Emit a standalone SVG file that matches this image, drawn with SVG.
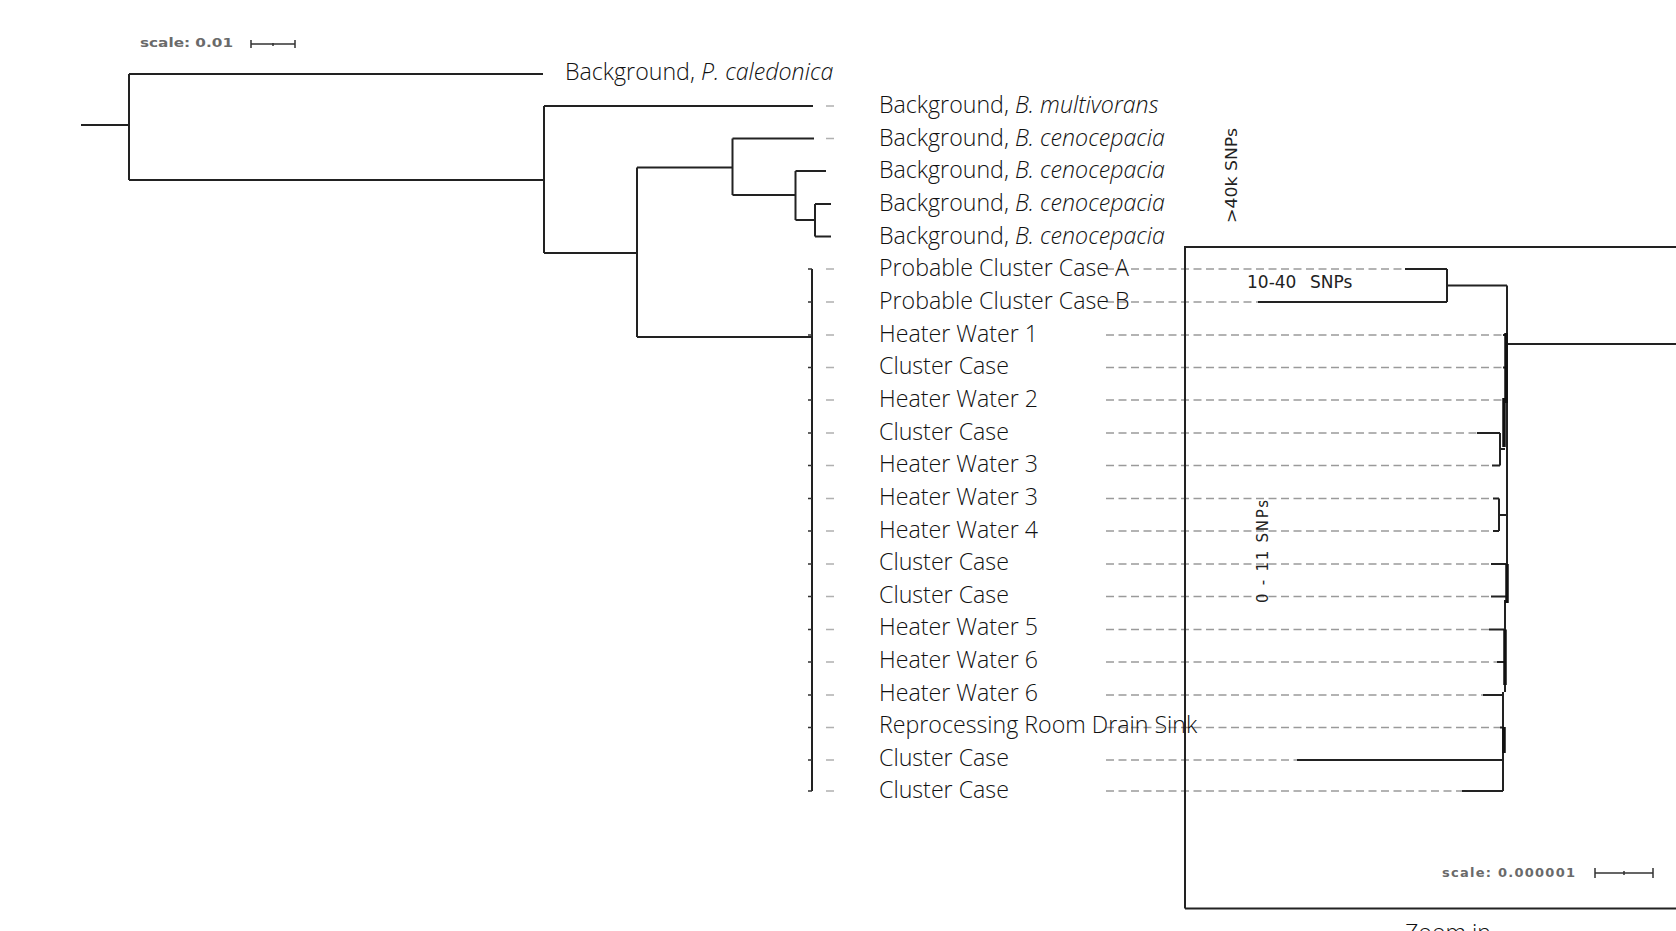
<svg xmlns="http://www.w3.org/2000/svg" width="1676" height="931" viewBox="0 0 1676 931">
<style>
.t{font-family:"Open Sans","Liberation Sans",sans-serif;font-size:23.2px;font-weight:300;fill:#111}
.i{font-style:italic}
.br{stroke:#222;stroke-width:2;fill:none}
.thk{stroke:#111;stroke-width:3.5;fill:none}
.tk{stroke:#333;stroke-width:1.5;fill:none}
.gd{stroke:#b0b0b0;stroke-width:1.5;fill:none}
.dl{stroke:#9a9a9a;stroke-width:1.5;stroke-dasharray:8 4.5;fill:none}
.s{font-family:"DejaVu Sans","Liberation Sans",sans-serif;fill:#222}
.sc{font-family:"DejaVu Sans","Liberation Sans",sans-serif;font-weight:bold;fill:#6a6a6a;font-size:13px}
</style>
<rect width="1676" height="931" fill="#fff"/>

<g id="scale-top">
<text class="sc" x="140" y="47" textLength="93" lengthAdjust="spacingAndGlyphs">scale: 0.01</text>
<path class="tk" d="M251 44H295M251 40V48M295 40V48M273 43V46" stroke="#666"/>
</g>

<g id="connectors">
<path class="br" d="M81 125H129M129 74V180M129 74H543M129 180H544M544 106V253M544 106H813M544 253H637M637 167.5V337M637 167.5H732.5M732.5 138.5V195M732.5 138.5H814M732.5 195H795.5M795.5 171V220M795.5 171H826M795.5 220H815M815 204V236.5M815 204H831M815 236.5H831M637 337H812M812 269V791"/>
<path class="tk" d="M808 269H812M808 302H812M808 335H812M808 367.5H812M808 400H812M808 433H812M808 465.5H812M808 498.5H812M808 531H812M808 564H812M808 596.5H812M808 629.5H812M808 662H812M808 695H812M808 727.5H812M808 760H812M808 791H812"/>
<path class="gd" d="M826 106H834M826 138.5H834M826 269H834M826 302H834M826 335H834M826 367.5H834M826 400H834M826 433H834M826 465.5H834M826 498.5H834M826 531H834M826 564H834M826 596.5H834M826 629.5H834M826 662H834M826 695H834M826 727.5H834M826 760H834M826 791H834"/>
<path class="dl" d="M1106 269H1405M1106 302H1258M1106 335H1503M1106 367.5H1503M1106 400H1503M1106 433H1477M1106 465.5H1492M1106 498.5H1493M1106 531H1493M1106 564H1491M1106 596.5H1491M1106 629.5H1489M1106 662H1497M1106 695H1483M1106 727.5H1500M1106 760H1297M1106 791H1462"/>
<path class="br" d="M1185 908.5V247H1680M1185 908.5H1680"/>
<path class="br" d="M1405 269H1447M1258 302H1447M1447 269V302M1447 285.5H1507M1507 285.5V600M1505 600V692M1503 692V791M1507 344H1680"/>
<path class="br" d="M1503 335H1507M1503 367.5H1507M1503 400H1507M1477 433H1500M1492 465.5H1500M1500 433V465.5M1500 449H1505M1493 498.5H1499M1493 531H1499M1499 498.5V531M1499 515H1507M1491 564H1507M1491 596.5H1507M1489 629.5H1505M1497 662H1505M1483 695H1504M1500 727.5H1504M1297 760H1503M1462 791H1503M1503 760V791"/>
<path class="thk" d="M1506 333V403M1504 398V447M1507 564V603M1505 629.5V685M1504 727V753"/>
</g>

<g id="leaf-p-caledonica"><text class="t" x="565" y="80">Background, <tspan class="i">P. caledonica</tspan></text></g>
<g id="leaf-b-multivorans"><text class="t" x="879" y="113">Background, <tspan class="i">B. multivorans</tspan></text></g>
<g id="leaf-b-cenocepacia-1"><text class="t" x="879" y="145.5">Background, <tspan class="i">B. cenocepacia</tspan></text></g>
<g id="leaf-b-cenocepacia-2"><text class="t" x="879" y="178">Background, <tspan class="i">B. cenocepacia</tspan></text></g>
<g id="leaf-b-cenocepacia-3"><text class="t" x="879" y="210.5">Background, <tspan class="i">B. cenocepacia</tspan></text></g>
<g id="leaf-b-cenocepacia-4"><text class="t" x="879" y="243.5">Background, <tspan class="i">B. cenocepacia</tspan></text></g>
<g id="leaf-probable-a"><text class="t" x="879" y="276">Probable Cluster Case A</text></g>
<g id="leaf-probable-b"><text class="t" x="879" y="309">Probable Cluster Case B</text></g>
<g id="leaf-heater-1"><text class="t" x="879" y="341.5">Heater Water 1</text></g>
<g id="leaf-cluster-1"><text class="t" x="879" y="374">Cluster Case</text></g>
<g id="leaf-heater-2"><text class="t" x="879" y="407">Heater Water 2</text></g>
<g id="leaf-cluster-2"><text class="t" x="879" y="439.5">Cluster Case</text></g>
<g id="leaf-heater-3a"><text class="t" x="879" y="472">Heater Water 3</text></g>
<g id="leaf-heater-3b"><text class="t" x="879" y="505">Heater Water 3</text></g>
<g id="leaf-heater-4"><text class="t" x="879" y="537.5">Heater Water 4</text></g>
<g id="leaf-cluster-3"><text class="t" x="879" y="570">Cluster Case</text></g>
<g id="leaf-cluster-4"><text class="t" x="879" y="602.5">Cluster Case</text></g>
<g id="leaf-heater-5"><text class="t" x="879" y="635">Heater Water 5</text></g>
<g id="leaf-heater-6a"><text class="t" x="879" y="667.5">Heater Water 6</text></g>
<g id="leaf-heater-6b"><text class="t" x="879" y="700.5">Heater Water 6</text></g>
<g id="leaf-drain"><text class="t" x="879" y="733">Reprocessing Room Drain Sink</text></g>
<g id="leaf-cluster-5"><text class="t" x="879" y="765.5">Cluster Case</text></g>
<g id="leaf-cluster-6"><text class="t" x="879" y="797.5">Cluster Case</text></g>

<g id="label-40k"><text class="s" font-size="16" transform="translate(1237,223) rotate(-90)" textLength="95" lengthAdjust="spacingAndGlyphs">&gt;40k SNPs</text></g>
<g id="label-10-40"><text class="s" font-size="17" y="287.5"><tspan x="1247">10-40</tspan><tspan x="1310">SNPs</tspan></text></g>
<g id="label-0-11"><text class="s" font-size="15" transform="translate(1268,603) rotate(-90)" textLength="103" lengthAdjust="spacing">0 - 11 SNPs</text></g>

<g id="scale-bottom">
<text class="sc" x="1442" y="877" textLength="133" lengthAdjust="spacing" font-size="14">scale: 0.000001</text>
<path class="tk" d="M1595 873H1653M1595 868V878M1653 868V878M1624 871V875" stroke="#555"/>
</g>

<g id="zoom-label"><text class="t" x="1405" y="941">Zoom in</text></g>
</svg>
